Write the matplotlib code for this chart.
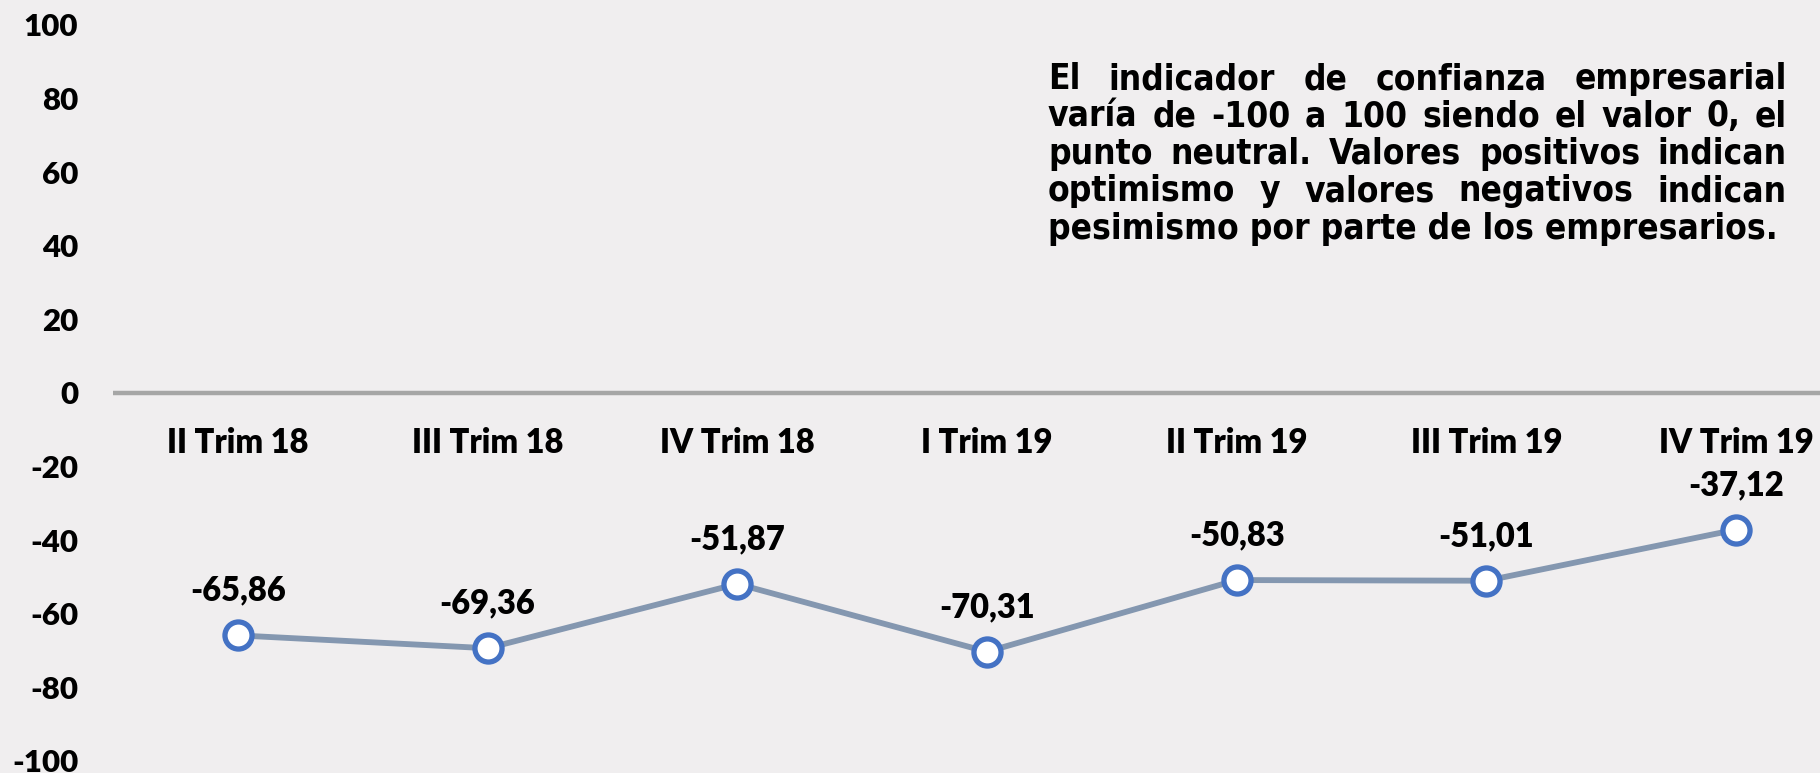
import matplotlib.pyplot as plt

trimestres = ["II Trim 18", "III Trim 18", "IV Trim 18", "I Trim 19",
              "II Trim 19", "III Trim 19", "IV Trim 19"]
confianza = [-65.86, -69.36, -51.87, -70.31, -50.83, -51.01, -37.12]
marcas_y = [100, 80, 60, 40, 20, 0, -20, -40, -60, -80, -100]

nota = [
    "El indicador de confianza empresarial",
    "varía de -100 a 100 siendo el valor 0, el",
    "punto neutral. Valores positivos indican",
    "optimismo y valores negativos indican",
    "pesimismo por parte de los empresarios.",
]

fondo = '#F0EEEF'
W, H = 1820, 773
etiqueta = dict(family='Lato', weight='heavy', size=23.5, color='black')

fig = plt.figure(figsize=(W / 100, H / 100), dpi=100, facecolor=fondo)
ax = fig.add_axes([113 / W, 12 / H, 1748 / W, 736 / H])
ax.set_facecolor(fondo)

x = list(range(len(trimestres)))
ax.axhline(0, color='#A6A6A6', lw=3.2, zorder=1)
ax.plot(x, confianza, color='#8497B0', lw=4.2, marker='o', ms=19.5,
        mfc='white', mec='#4472C4', mew=3.8, zorder=3, clip_on=False)

for i, (nombre, v) in enumerate(zip(trimestres, confianza)):
    ax.annotate(f"{v:.2f}".replace('.', ','), (i, v), xytext=(0, 25),
                textcoords='offset points', ha='center', va='baseline', **etiqueta)
    ax.annotate(nombre, (i, 0), xytext=(0, -43), textcoords='offset points',
                ha='center', va='baseline', **etiqueta)

ax.set_xlim(-0.5, len(trimestres) - 0.5)
ax.set_ylim(-100, 100)
ax.set_xticks([])
ax.set_yticks(marcas_y)
ax.set_yticklabels([str(t) for t in marcas_y],
                   fontdict=dict(etiqueta, size=22.5))
ax.tick_params(axis='y', length=0, pad=25)
for s in ax.spines.values():
    s.set_visible(False)

# nota justificada a ambos lados
renderer = fig.canvas.get_renderer()
izq, der = 1048, 1787
estilo_nota = dict(family='DejaVu Sans', weight='bold', stretch='condensed',
                   size=25.3, color='black', va='baseline')
for k, linea in enumerate(nota):
    y = 1 - (89 + 37.4 * k) / H
    if k == len(nota) - 1:
        fig.text(izq / W, y, linea, **estilo_nota)
        continue
    palabras = linea.split()
    textos = [fig.text(0, y, p, **estilo_nota) for p in palabras]
    anchos = [t.get_window_extent(renderer).width for t in textos]
    hueco = (der - izq - sum(anchos)) / (len(palabras) - 1)
    pos = izq
    for t, w in zip(textos, anchos):
        t.set_x(pos / W)
        pos += w + hueco

fig.savefig('out.png', dpi=100, facecolor=fondo)
